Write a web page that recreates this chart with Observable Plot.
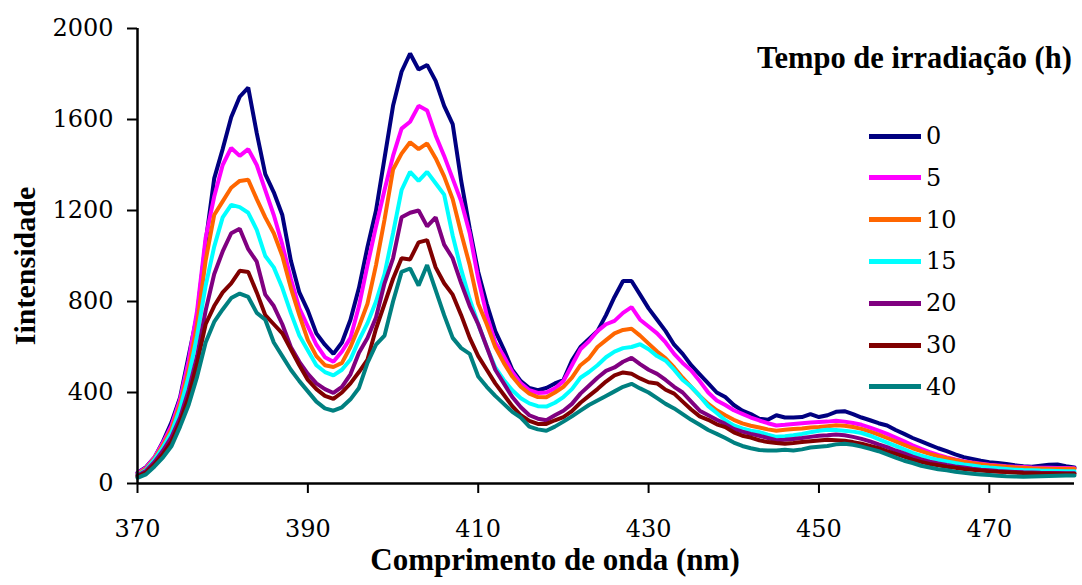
<!DOCTYPE html>
<html>
<head>
<meta charset="utf-8">
<script src="https://cdn.jsdelivr.net/npm/d3@7"></script>
<script src="https://cdn.jsdelivr.net/npm/@observablehq/plot@0.6"></script>
<style>
  html, body { margin: 0; padding: 0; background: #fff; }
  #wrap { position: relative; width: 1082px; height: 585px; font-family: "Liberation Serif", serif; color: #000; }
  #legend { position: absolute; left: 0; top: 0; width: 1082px; height: 585px; pointer-events: none; }
  #legend .title { position: absolute; left: 757px; top: 40px; font-size: 30.5px; font-weight: bold; white-space: nowrap; line-height: 36px; }
  #legend .item { position: absolute; left: 869px; height: 34px; display: flex; align-items: center; }
  #legend .sw { width: 52px; height: 5px; margin-right: 5px; }
  #legend .lab { font-size: 24px; line-height: 34px; font-family: "DejaVu Serif", serif; }
  .yax text, .xax text { font-family: "DejaVu Serif", serif !important; }
</style>
</head>
<body>
<div id="wrap"><div id="chart"></div><div id="legend"></div></div>
<script>
const wavelength = [370,371,372,373,374,375,376,377,378,379,380,381,382,383,384,385,386,387,388,389,390,391,392,393,394,395,396,397,398,399,400,401,402,403,404,405,406,407,408,409,410,411,412,413,414,415,416,417,418,419,420,421,422,423,424,425,426,427,428,429,430,431,432,433,434,435,436,437,438,439,440,441,442,443,444,445,446,447,448,449,450,451,452,453,454,455,456,457,458,459,460,461,462,463,464,465,466,467,468,469,470,471,472,473,474,475,476,477,478,479,480];

const seriesNames = ["0","5","10","15","20","30","40"];
const seriesColors = ["#000080","#FF00FF","#FF6600","#00FFFF","#800080","#800000","#008080"];

const t0 = [48,72,115,185,270,378,560,740,1060,1340,
1470,1610,1700,1740,1540,1360,1280,1180,980,840,
760,660,610,570,620,720,860,1040,1200,1430,
1660,1810,1890,1820,1840,1770,1660,1580,1330,1120,
930,790,670,590,500,450,420,410,420,440,
455,540,600,635,670,740,820,890,890,830,
770,720,670,610,570,520,480,440,400,380,
345,320,305,285,280,300,290,290,292,305,
292,300,315,318,305,290,278,265,255,235,
218,200,185,170,155,142,128,116,108,100,
94,90,86,80,76,74,78,82,84,76,
70];
const t5 = [45,70,115,180,255,370,540,760,1080,1260,
1400,1475,1440,1470,1400,1290,1180,1050,900,770,
690,610,555,535,580,640,780,960,1130,1290,
1440,1560,1590,1660,1640,1530,1440,1340,1240,1100,
900,740,620,560,490,440,410,398,400,418,
450,520,590,625,670,700,715,750,775,720,
690,660,620,570,530,497,450,400,365,345,
322,306,290,277,265,255,258,262,265,268,
270,272,276,272,266,258,246,232,218,202,
185,168,152,138,126,115,106,98,92,87,
82,79,76,74,72,70,69,69,68,68,
67];
const t10 = [40,65,110,170,240,350,500,700,980,1180,
1240,1300,1330,1335,1250,1170,1100,1000,860,740,
630,560,520,512,530,600,690,790,960,1160,
1380,1450,1500,1470,1495,1430,1350,1250,1100,960,
790,700,600,530,470,425,395,380,379,400,
425,465,520,550,600,630,660,675,680,650,
615,580,550,510,465,425,385,350,322,300,
280,264,254,246,238,232,236,240,242,246,
248,252,256,254,248,240,228,215,200,185,
170,155,142,130,120,111,103,96,90,85,
80,77,74,71,69,67,66,65,65,65,
65];
const t15 = [38,60,105,160,225,330,470,650,870,1040,
1170,1225,1215,1190,1115,1000,950,860,750,650,
585,520,490,475,500,545,630,705,800,920,
1100,1290,1370,1330,1370,1320,1270,1090,940,810,
700,600,510,455,410,375,352,340,338,355,
380,415,465,490,520,555,580,595,600,612,
590,560,540,500,455,425,385,340,310,278,
255,242,232,226,215,205,208,212,218,225,
232,236,235,232,228,222,210,195,180,165,
150,135,122,112,104,97,90,84,79,74,
70,67,64,61,59,58,57,56,55,54,
54];
const t20 = [35,55,95,145,205,290,410,560,760,920,
1020,1100,1120,1030,975,830,780,700,600,535,
482,440,415,398,425,480,575,640,730,880,
990,1170,1190,1200,1130,1170,1050,990,880,780,
700,600,500,440,380,335,300,285,278,300,
320,350,395,430,465,495,510,535,552,525,
500,482,455,425,400,360,320,300,280,262,
240,228,218,210,200,190,192,196,200,205,
210,212,215,212,205,196,185,172,160,145,
132,118,106,96,88,81,75,70,65,61,
58,55,53,51,49,48,47,46,46,45,
45];
const t30 = [30,48,85,130,185,270,380,530,700,780,
840,880,935,930,840,740,700,660,590,520,
455,415,385,372,400,440,490,545,680,790,
900,990,985,1060,1070,950,880,830,740,640,
560,500,440,390,340,300,275,262,262,278,
292,318,355,385,415,448,475,488,482,462,
445,440,412,395,360,325,295,280,260,248,
225,210,202,190,182,178,175,178,182,186,
189,192,190,188,182,175,165,155,142,130,
118,105,95,86,80,74,69,64,60,57,
54,52,50,48,46,45,44,44,43,43,
43];
const t40 = [25,40,75,115,165,250,345,470,620,710,
765,815,835,820,750,720,620,560,500,450,
405,360,330,320,335,370,420,530,610,650,
800,930,945,870,960,850,740,640,595,570,
470,425,385,350,315,290,250,238,232,250,
272,295,320,345,365,385,405,425,438,418,
400,375,350,330,305,280,258,235,218,200,
180,165,155,147,145,145,148,145,150,158,
162,165,172,175,170,162,152,142,128,114,
100,90,78,70,63,58,52,47,43,40,
37,34,32,31,30,31,32,33,34,35,
35];

const xTicks = [370,390,410,430,450,470];
const yTicks = [0,400,800,1200,1600,2000];
const xTitle = "Comprimento de onda (nm)";
const yTitle = "Iintensidade";
const legendTitle = "Tempo de irradiação (h)";

const allValues = [t0,t5,t10,t15,t20,t30,t40];
const data = [];
seriesNames.forEach((s, i) => {
  allValues[i].forEach((v, j) => data.push({wl: wavelength[j], val: v, serie: s}));
});

const font = "'Liberation Serif', serif";

const chart = Plot.plot({
  width: 1082,
  height: 585,
  marginLeft: 137,
  marginRight: 8,
  marginTop: 28,
  marginBottom: 102,
  style: {fontFamily: font, background: "white", color: "black"},
  x: {domain: [370, 480]},
  y: {domain: [0, 2000]},
  color: {domain: seriesNames, range: seriesColors},
  marks: [
    Plot.line(data, {x: "wl", y: "val", z: "serie", stroke: "serie", strokeWidth: 4, strokeLinejoin: "miter", curve: "linear"}),
    Plot.ruleY([0], {stroke: "black", strokeWidth: 2.5}),
    Plot.ruleX([370], {stroke: "black", strokeWidth: 2.5}),
    Plot.axisX({ticks: xTicks, tickSize: 10, tickPadding: 26, fontSize: 24, strokeWidth: 2, label: null, tickFormat: d => String(d), className: "xax"}),
    Plot.axisY({ticks: yTicks, tickSize: 10, tickPadding: 14, fontSize: 24, strokeWidth: 2, label: null, tickFormat: d => String(d), className: "yax"}),
    Plot.text([xTitle], {frameAnchor: "bottom", dx: -51, dy: 86, fontSize: 31, fontWeight: "bold", fill: "black", textAnchor: "middle"}),
    Plot.text([yTitle], {frameAnchor: "left", dx: -112, dy: 10, rotate: -90, fontSize: 30, fontWeight: "bold", fill: "black", textAnchor: "middle"})
  ]
});
document.getElementById("chart").appendChild(chart);

const legend = document.getElementById("legend");
const t = document.createElement("div");
t.className = "title";
t.textContent = legendTitle;
legend.appendChild(t);
seriesNames.forEach((s, i) => {
  const it = document.createElement("div");
  it.className = "item";
  it.style.top = (119 + i * 41.8) + "px";
  const sw = document.createElement("div");
  sw.className = "sw";
  sw.style.background = seriesColors[i];
  const lab = document.createElement("span");
  lab.className = "lab";
  lab.textContent = s;
  it.appendChild(sw);
  it.appendChild(lab);
  legend.appendChild(it);
});
</script>
</body>
</html>
